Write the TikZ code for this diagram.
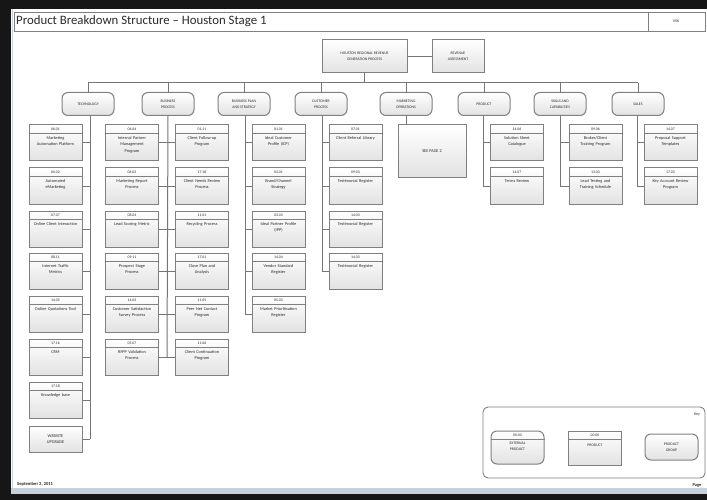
\documentclass[tikz,border=0pt]{standalone}
\usepackage{fontspec}
\setmainfont{Carlito}
\begin{document}
\definecolor{boxgray}{HTML}{808080}
\definecolor{linegray}{HTML}{767676}
\definecolor{boxfill}{HTML}{E2E2E2}
\definecolor{txt}{HTML}{2A2A2A}
\definecolor{frame}{HTML}{161616}
\definecolor{barblue}{HTML}{C9D0D8}
\tikzset{
  itembox/.style={draw=boxgray, line width=1pt, top color=white, bottom color=boxfill,
    minimum width=53pt, minimum height=36pt, inner sep=0pt},
  plainbox/.style={draw=boxgray, line width=1pt, top color=white, bottom color=boxfill,
    minimum width=53pt, inner sep=0pt, align=center, text=txt,
    font=\fontsize{4.3}{6.3}\selectfont},
  groupbox/.style={draw=boxgray, line width=1pt, rounded corners=6pt, top color=white,
    bottom color=boxfill, minimum width=52pt, minimum height=23pt, inner sep=0pt,
    align=center, text=txt, font=\fontsize{3.8}{5.6}\selectfont},
  itemrule/.style={draw=boxgray, line width=0.8pt},
  codelbl/.style={inner sep=0pt, text=txt, font=\fontsize{3.8}{4.5}\selectfont},
  bodylbl/.style={anchor=north, inner sep=0pt, text width=50pt, align=center, text=txt,
    font=\fontsize{4.3}{6.3}\selectfont},
  link/.style={draw=linegray, line width=1pt},
}
% a product card: name, x, y, code, description
\newcommand\pbsitem[5]{%
  \node[itembox] (#1) at (#2,#3) {};
  \draw[itemrule] ([yshift=-9pt]#1.north west) -- ([yshift=-9pt]#1.north east);
  \node[codelbl] (#1-c) at ([yshift=-4.5pt]#1.north) {#4};
  \node[bodylbl] (#1-t) at ([yshift=-12pt]#1.north) {#5};
}
\begin{tikzpicture}[x=1pt,y=-1pt]
\useasboundingbox (0,0) rectangle (707,500);
% window frame and page
\fill[frame] (0,0) rectangle (707,500);
\fill[white] (11,9) rectangle (707,490);
\draw[barblue, line width=1pt] (12,9) -- (12,490);
\fill[barblue] (11,488) rectangle (707,494);

% title bar
\node[draw=boxgray, line width=0.9pt, minimum width=691pt, minimum height=19pt, inner sep=0pt]
  (titlebar) at (359.5,21.5) {};
\draw[boxgray, line width=0.8pt] (648,12) -- (648,31);
\node[anchor=west, inner sep=0pt, font=\fontsize{12.8}{14}\selectfont, text=txt]
  (title) at (16,21.5) {Product Breakdown Structure -- Houston Stage 1};
\node[inner sep=0pt, font=\fontsize{4}{5}\selectfont, text=txt] (ver) at (676,21.5) {VSX};

% root and side node
\node[plainbox, minimum width=85pt, minimum height=33pt, font=\fontsize{3.8}{5.6}\selectfont]
  (root) at (364.5,56.5) {HOUSTON REGIONAL REVENUE\\GENERATION PROCESS};
\node[plainbox, minimum width=52pt, minimum height=33pt, font=\fontsize{3.8}{5.6}\selectfont]
  (rev) at (458,56.5) {REVENUE\\ASSESSMENT};
\draw[link] (root.east) -- (rev.west);

% second level
\node[groupbox] (tech) at (88,104) {TECHNOLOGY};
\node[groupbox] (bproc) at (168,104) {BUSINESS\\PROCESS};
\node[groupbox] (bplan) at (244,104) {BUSINESS PLAN\\AND STRATEGY};
\node[groupbox] (cust) at (321,104) {CUSTOMER\\PROCESS};
\node[groupbox] (mops) at (406,104) {MARKETING\\OPERATIONS};
\node[groupbox] (prod) at (484,104) {PRODUCT};
\node[groupbox] (skill) at (560,104) {SKILLS AND\\CAPABILITIES};
\node[groupbox] (sales) at (638,104) {SALES};

\coordinate (busL) at (88,83);
\coordinate (busR) at (638,83);
\draw[link] (root.south) -- (root.south |- busL);
\draw[link] (busL) -- (busR);
\foreach \g in {tech,bproc,bplan,cust,mops,prod,skill,sales}
  \draw[link] (\g.north) -- (\g.north |- busL);

% technology
\pbsitem{t1}{55.5}{143}{06.01}{Marketing\\Automation Platform}
\pbsitem{t2}{55.5}{186}{06.02}{Automated\\eMarketing}
\pbsitem{t3}{55.5}{229}{07.07}{Online Client Interaction}
\pbsitem{t4}{55.5}{271}{08.11}{Internet Traffic\\Metrics}
\pbsitem{t5}{55.5}{314}{14.05}{Online Quotations Tool}
\pbsitem{t6}{55.5}{357}{17.16}{CRM}
\pbsitem{t7}{55.5}{400}{17.18}{Knowledge base}
\node[plainbox, minimum height=26pt] (t8) at (55.5,439) {WEBSITE\\UPGRADE};
\coordinate (techEnd) at (90,439);
\draw[link] (tech.south -| techEnd) -- (techEnd);
\foreach \n in {t1,t2,t3,t4,t5,t6,t7,t8}
  \draw[link] (\n.east) -- (\n.east -| techEnd);

% business process
\pbsitem{b1}{132}{143}{06.04}{Internal Partner\\Management\\Program}
\pbsitem{b2}{132}{186}{06.02}{Marketing Report\\Process}
\pbsitem{b3}{132}{229}{08.04}{Lead Scoring Metric}
\pbsitem{b4}{132}{271}{09.11}{Prospect Stage\\Process}
\pbsitem{b5}{132}{314}{14.02}{Customer Satisfaction\\Survey Process}
\pbsitem{b6}{132}{357}{05.07}{RFPP Validation\\Process}
\pbsitem{c1}{202}{143}{01.11}{Client Follow-up\\Program}
\pbsitem{c2}{202}{186}{17.18}{Client Needs Review\\Process}
\pbsitem{c3}{202}{229}{11.01}{Recycling Process}
\pbsitem{c4}{202}{271}{17.01}{Close Plan and\\Analysis}
\pbsitem{c5}{202}{314}{11.05}{Peer Net Contact\\Program}
\pbsitem{c6}{202}{357}{11.06}{Client Continuation\\Program}
\coordinate (bprocEnd) at (167,357);
\draw[link] (bproc.south) -- (bprocEnd);
\foreach \n in {b1,b2,b3,b4,b5,b6}
  \draw[link] (\n.east) -- (\n.east -| bprocEnd);
\foreach \n in {c1,c2,c3,c4,c5,c6}
  \draw[link] (\n.west) -- (\n.west -| bprocEnd);

% business plan and strategy
\pbsitem{s1}{278.5}{143}{01.01}{Ideal Customer\\Profile (ICP)}
\pbsitem{s2}{278.5}{186}{03.01}{Brand/Channel\\Strategy}
\pbsitem{s3}{278.5}{229}{03.03}{Ideal Partner Profile\\(IPP)}
\pbsitem{s4}{278.5}{271}{14.04}{Vendor Standard\\Register}
\pbsitem{s5}{278.5}{314}{05.03}{Market Prioritisation\\Register}
\coordinate (bplanEnd) at (245,314);
\draw[link] (bplan.south -| bplanEnd) -- (bplanEnd);
\foreach \n in {s1,s2,s3,s4,s5}
  \draw[link] (\n.west) -- (\n.west -| bplanEnd);

% customer process
\pbsitem{p1}{355.5}{143}{07.01}{Client Referral Library}
\pbsitem{p2}{355.5}{186}{09.03}{Testimonial Register}
\pbsitem{p3}{355.5}{229}{14.03}{Testimonial Register}
\pbsitem{p4}{355.5}{271}{14.03}{Testimonial Register}
\coordinate (custEnd) at (322,271);
\draw[link] (cust.south -| custEnd) -- (custEnd);
\foreach \n in {p1,p2,p3,p4}
  \draw[link] (\n.west) -- (\n.west -| custEnd);

% marketing operations
\node[plainbox, minimum width=68pt, minimum height=53pt] (seep) at (432,151.5) {SEE PAGE 2};
\draw[link] (mops.south) -- (mops.south |- seep.north);

% product
\pbsitem{r1}{517}{143}{14.06}{Solution Sheet\\Catalogue}
\pbsitem{r2}{517}{186}{14.07}{Terms Review}
\coordinate (prodEnd) at (483,186);
\draw[link] (prod.south -| prodEnd) -- (prodEnd);
\foreach \n in {r1,r2}
  \draw[link] (\n.west) -- (\n.west -| prodEnd);

% skills and capabilities
\pbsitem{k1}{595.5}{143}{09.06}{Broker/Client\\Training Program}
\pbsitem{k2}{595.5}{186}{13.03}{Lead Testing and\\Training Schedule}
\coordinate (skillEnd) at (560,186);
\draw[link] (skill.south -| skillEnd) -- (skillEnd);
\foreach \n in {k1,k2}
  \draw[link] (\n.west) -- (\n.west -| skillEnd);

% sales
\pbsitem{a1}{670.5}{143}{14.07}{Proposal Support\\Templates}
\pbsitem{a2}{670.5}{186}{17.03}{Key Account Review\\Program}
\coordinate (salesEnd) at (637,186);
\draw[link] (sales.south -| salesEnd) -- (salesEnd);
\foreach \n in {a1,a2}
  \draw[link] (\n.west) -- (\n.west -| salesEnd);

% key
\node[draw=boxgray, line width=0.9pt, rounded corners=5pt, minimum width=222pt,
  minimum height=71pt, inner sep=0pt] (key) at (594,442.5) {};
\node[inner sep=0pt, font=\fontsize{4}{5}\selectfont, text=txt] (keylbl) at (697,415) {Key};
\node[itembox, rounded corners=6pt, minimum height=33pt] (kext) at (517.5,447.5) {};
\draw[itemrule] ([yshift=-9pt]kext.north west) -- ([yshift=-9pt]kext.north east);
\node[codelbl] (kext-c) at ([yshift=-4.5pt]kext.north) {00.00};
\node[bodylbl, font=\fontsize{3.8}{5.6}\selectfont] (kext-t) at ([yshift=-11.5pt]kext.north) {EXTERNAL\\PRODUCT};
\node[itembox, minimum height=34pt] (kprod) at (595,448) {};
\draw[itemrule] ([yshift=-9pt]kprod.north west) -- ([yshift=-9pt]kprod.north east);
\node[codelbl] (kprod-c) at ([yshift=-4.5pt]kprod.north) {00.00};
\node[bodylbl, font=\fontsize{3.8}{5.6}\selectfont] (kprod-t) at ([yshift=-13pt]kprod.north) {PRODUCT};
\node[groupbox, minimum width=53pt, minimum height=26pt] (kgrp) at (671.5,447) {PRODUCT\\GROUP};

% footer
\node[anchor=west, inner sep=0pt, font=\bfseries\fontsize{4.6}{5.5}\selectfont, text=txt]
  (date) at (17,484) {September 2, 2011};
\node[inner sep=0pt, font=\bfseries\fontsize{4.4}{5.5}\selectfont, text=txt] (page) at (697,485) {Page};
\end{tikzpicture}
\end{document}
